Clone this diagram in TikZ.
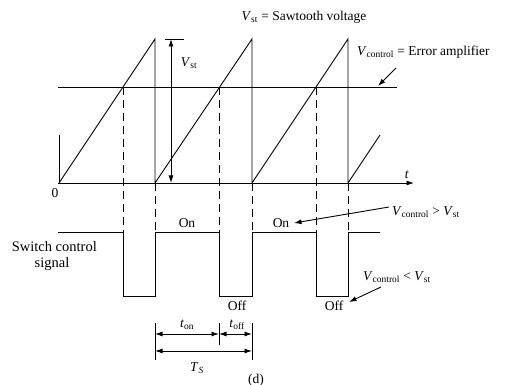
\documentclass[tikz,border=0pt]{standalone}
\usepackage{fontspec}
\setmainfont{Liberation Serif}
\usetikzlibrary{arrows.meta}
\newcommand{\vsub}[2]{\textit{#1}\textsubscript{#2}}
\begin{document}
\begin{tikzpicture}[x=1pt,y=-1pt,
  wave/.style={line width=0.9pt},
  dash line/.style={line width=0.9pt,dash pattern=on 8pt off 5pt},
  arr/.style={line width=0.9pt,-{Latex[length=7.5pt,width=5pt]}},
  darr/.style={line width=0.9pt,{Latex[length=7.5pt,width=5pt]}-{Latex[length=7.5pt,width=5pt]}},
  lbl/.style={inner sep=0pt,font=\fontsize{13.5}{15.5}\selectfont},
  swl/.style={inner sep=0pt,font=\fontsize{14.5}{16.5}\selectfont}]
\useasboundingbox (0,0) rectangle (512,385);
% axes
\draw[arr] (58,183) -- (414,183);
\draw[wave] (59,135) -- (59,183);
% sawtooth
\draw[wave] (59,183) -- (155,39) -- (155,183) -- (252,39) -- (252,183) -- (348,39) -- (348,183) -- (380,135);
% control level
\draw[wave] (58,87) -- (397,87);
% dashed projections
\foreach \x in {123,219,316} \draw[dash line] (\x,87) -- (\x,232);
\foreach \x in {155,252,348} \draw[dash line] (\x,183) -- (\x,232);
% switch signal
\draw[wave] (58,232) -- (123,232) -- (123,296) -- (155,296) -- (155,232) -- (219,232) -- (219,296) -- (252,296) -- (252,232) -- (316,232) -- (316,296) -- (348,296) -- (348,232) -- (380,232);
% Vst dimension
\draw[wave] (165,39) -- (184,39);
\draw[darr] (171,39) -- (171,183);
% labels
\node[lbl] (vst) at (189,63) {\vsub{V}{st}};
\node[lbl] (tt) at (407,175) {\textit{t}};
\node[lbl] (zero) at (55,193) {0};
\node[lbl] (title) at (304,17) {\vsub{V}{st} = Sawtooth voltage};
\node[lbl,anchor=west] (vctl) at (357,52) {\vsub{V}{control} = Error amplifier};
\draw[arr] (396,68) -- (378,86);
\node[lbl] (on1) at (187,223) {On};
\node[lbl] (on2) at (281,223) {On};
\node[lbl] (off1) at (237,306) {Off};
\node[lbl] (off2) at (334,306) {Off};
\node[swl,anchor=east] (sw1) at (97,247) {Switch control};
\node[swl] (sw2) at (52,264) {signal};
\node[lbl,anchor=west] (gt) at (392,212) {\vsub{V}{control} > \vsub{V}{st}};
\draw[arr] (389,207) -- (294,223);
\node[lbl,anchor=west] (lt) at (363,277) {\vsub{V}{control} < \vsub{V}{st}};
\draw[arr] (381,287) -- (349,302);
% time dimensions
\draw[wave] (155,323) -- (155,360);
\draw[wave] (219,323) -- (219,345);
\draw[wave] (252,323) -- (252,360);
\draw[darr] (155,334) -- (219,334);
\draw[darr] (219,334) -- (252,334);
\draw[darr] (155,351) -- (252,351);
\node[lbl] (ton) at (187,325) {\vsub{t}{on}};
\node[lbl] (toff) at (237,325) {\vsub{t}{off}};
\node[lbl] (ts) at (197,368) {\textit{T}\textsubscript{\textit{S}}};
\node[lbl] (d) at (256,380) {(d)};
\end{tikzpicture}
\end{document}
